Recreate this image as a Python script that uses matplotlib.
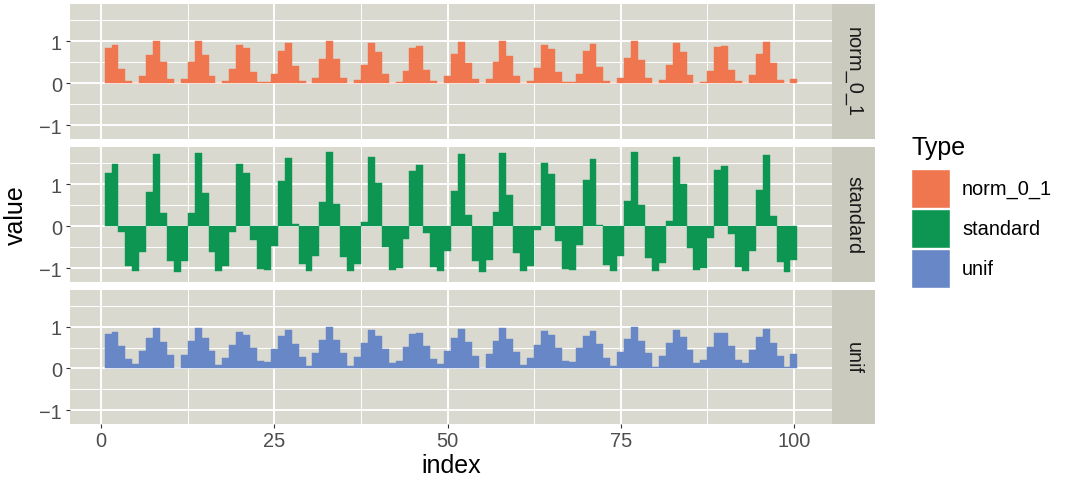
import matplotlib
matplotlib.use("Agg")
import matplotlib.pyplot as plt
from matplotlib.patches import Rectangle

plt.rcParams["font.family"] = ["Liberation Sans", "DejaVu Sans"]

# ---- data -------------------------------------------------------------
index = list(range(1, 101))

norm_0_1 = [
    0.83, 0.90, 0.33, 0.04, 0.01, 0.17, 0.66, 0.99, 0.49, 0.09,
    0.00, 0.09, 0.49, 0.99, 0.66, 0.16, 0.01, 0.04, 0.34, 0.90,
    0.83, 0.27, 0.03, 0.02, 0.22, 0.76, 0.95, 0.40, 0.06, 0.00,
    0.13, 0.58, 1.00, 0.57, 0.12, 0.00, 0.07, 0.42, 0.96, 0.74,
    0.21, 0.01, 0.03, 0.28, 0.84, 0.89, 0.32, 0.04, 0.01, 0.17,
    0.68, 0.98, 0.48, 0.09, 0.00, 0.10, 0.50, 0.99, 0.65, 0.16,
    0.01, 0.05, 0.35, 0.91, 0.82, 0.26, 0.02, 0.02, 0.22, 0.77,
    0.94, 0.39, 0.06, 0.00, 0.13, 0.59, 1.00, 0.55, 0.12, 0.00,
    0.07, 0.43, 0.96, 0.73, 0.20, 0.01, 0.03, 0.28, 0.85, 0.88,
    0.32, 0.04, 0.01, 0.18, 0.69, 0.98, 0.47, 0.08, 0.00, 0.10,
]

standard = [
    1.27, 1.47, -0.14, -0.96, -1.07, -0.62, 0.80, 1.72, 0.30, -0.83,
    -1.09, -0.82, 0.31, 1.73, 0.79, -0.62, -1.07, -0.96, -0.13, 1.48,
    1.26, -0.33, -1.01, -1.04, -0.47, 1.06, 1.62, 0.06, -0.91, -1.08,
    -0.72, 0.57, 1.76, 0.52, -0.74, -1.08, -0.90, 0.10, 1.64, 1.02,
    -0.50, -1.05, -1.00, -0.30, 1.30, 1.45, -0.16, -0.97, -1.07, -0.60,
    0.83, 1.71, 0.27, -0.84, -1.09, -0.81, 0.34, 1.73, 0.75, -0.64,
    -1.07, -0.95, -0.10, 1.50, 1.23, -0.35, -1.02, -1.04, -0.45, 1.09,
    1.60, 0.03, -0.92, -1.08, -0.71, 0.60, 1.75, 0.49, -0.76, -1.08,
    -0.89, 0.12, 1.65, 0.99, -0.52, -1.05, -1.00, -0.28, 1.33, 1.43,
    -0.19, -0.98, -1.06, -0.59, 0.86, 1.70, 0.24, -0.85, -1.09, -0.80,
]

unif = [
    0.82, 0.87, 0.55, 0.23, 0.10, 0.42, 0.73, 0.96, 0.64, 0.32,
    0.01, 0.33, 0.65, 0.97, 0.72, 0.41, 0.09, 0.24, 0.56, 0.88,
    0.81, 0.50, 0.18, 0.15, 0.47, 0.78, 0.91, 0.59, 0.27, 0.06,
    0.38, 0.69, 1.00, 0.68, 0.37, 0.05, 0.28, 0.60, 0.92, 0.77,
    0.46, 0.14, 0.19, 0.51, 0.83, 0.86, 0.54, 0.22, 0.11, 0.43,
    0.74, 0.95, 0.63, 0.31, 0.02, 0.34, 0.66, 0.98, 0.71, 0.40,
    0.08, 0.25, 0.57, 0.89, 0.80, 0.49, 0.17, 0.16, 0.48, 0.79,
    0.90, 0.58, 0.26, 0.07, 0.39, 0.70, 0.99, 0.67, 0.36, 0.04,
    0.29, 0.61, 0.93, 0.76, 0.45, 0.13, 0.20, 0.52, 0.84, 0.85,
    0.53, 0.21, 0.12, 0.44, 0.75, 0.94, 0.62, 0.30, 0.03, 0.35,
]

types = ["norm_0_1", "standard", "unif"]
series = {"norm_0_1": norm_0_1, "standard": standard, "unif": unif}
fills = {"norm_0_1": "#F07650", "standard": "#0C9652", "unif": "#6787C6"}

x_major = [0, 25, 50, 75, 100]
x_minor = [12.5, 37.5, 62.5, 87.5]
y_major = [-1, 0, 1]
y_minor = [-0.5, 0.5, 1.5]

# ---- figure -----------------------------------------------------------
W, H = 1067, 485
fig = plt.figure(figsize=(W / 100, H / 100), dpi=100)


def fig_box(left, top, right, bottom):
    return [left / W, 1 - bottom / H, (right - left) / W, (bottom - top) / H]


panel_bg = "#D9D9CF"
strip_bg = "#CBCABF"
tick_col = "#4D4D4D"
small = 14.4
big = 18

panel_left, panel_right = 70, 832
strip_right = 875
rows = [(5, 140), (148, 283), (291, 425)]

for k, (name, (top, bottom)) in enumerate(zip(types, rows)):
    ax = fig.add_axes(fig_box(panel_left, top, panel_right, bottom))
    ax.set_facecolor(panel_bg)
    for sp in ax.spines.values():
        sp.set_visible(False)
    ax.set_axisbelow(True)

    ax.bar(index, series[name], width=1.0, color=fills[name],
           edgecolor=fills[name], linewidth=0.3)

    ax.set_xlim(-4.5, 105.5)
    ax.set_ylim(-1.33, 1.88)
    ax.set_xticks(x_major)
    ax.set_xticks(x_minor, minor=True)
    ax.set_yticks(y_major)
    ax.set_yticks(y_minor, minor=True)
    ax.set_yticklabels(["\u22121", "0", "1"])
    ax.grid(which="major", color="white", linewidth=1.4)
    ax.grid(which="minor", color="white", linewidth=0.7)
    ax.tick_params(which="minor", length=0)
    ax.tick_params(axis="y", which="major", length=3.2, width=0.8,
                   color="#333333", labelcolor=tick_col, labelsize=small,
                   pad=2.5)
    if k == len(types) - 1:
        ax.tick_params(axis="x", which="major", length=3.2, width=0.8,
                       color="#333333", labelcolor=tick_col, labelsize=small,
                       pad=2.0)
    else:
        ax.tick_params(axis="x", which="major", length=0, labelbottom=False)

    # facet strip on the right
    sx, sy, sw, sh = fig_box(panel_right, top, strip_right, bottom)
    fig.add_artist(Rectangle((sx, sy), sw, sh, transform=fig.transFigure,
                             facecolor=strip_bg, edgecolor="none"))
    fig.text(sx + sw / 2, sy + sh / 2, name, rotation=-90, ha="center",
             va="center", fontsize=small, color="#1A1A1A")

# axis titles
fig.text((panel_left + panel_right) / 2 / W, 1 - 466 / H, "index",
         ha="center", va="center", fontsize=big)
fig.text(16 / W, 1 - 215 / H, "value", ha="center", va="center",
         rotation=90, fontsize=big)

# legend
fig.text(911 / W, 1 - 148 / H, "Type", ha="left", va="center", fontsize=big)
key_tops = [170, 210, 250]
for name, kt in zip(types, key_tops):
    kx, ky, kw, kh = fig_box(911, kt, 950, kt + 39)
    fig.add_artist(Rectangle((kx, ky), kw, kh, transform=fig.transFigure,
                             facecolor=fills[name], edgecolor="white",
                             linewidth=1.0))
    fig.text(962 / W, 1 - (kt + 19.5) / H, name, ha="left", va="center",
             fontsize=small, color="black")

fig.savefig("out.png", dpi=100)
